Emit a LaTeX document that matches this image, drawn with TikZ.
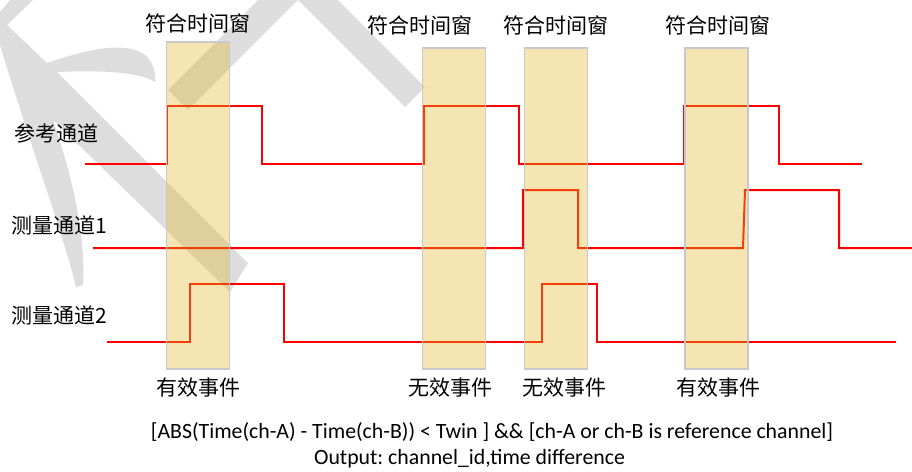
\documentclass[tikz,border=0pt]{standalone}
\usepackage{fontspec}
\setmainfont{Carlito}
\newfontfamily\cjk{Noto Sans CJK SC}
\definecolor{wmgray}{RGB}{221,221,221}
\definecolor{wincol}{RGB}{225,181,34}
\definecolor{winborder}{RGB}{200,200,206}
\definecolor{sigred}{RGB}{255,0,0}
\frenchspacing
\begin{document}
\begin{tikzpicture}[x=1pt,y=-1pt,
  wm/.style={fill=wmgray},
  wmline/.style={draw=wmgray,line width=28pt,line join=miter},
  sig/.style={draw=sigred,line width=2pt},
  win/.style={draw=winborder,line width=1.2pt,fill=wincol,fill opacity=0.35,inner sep=0pt,minimum width=63pt},
  cjklab/.style={font=\cjk\fontsize{21}{25}\selectfont,inner sep=0pt},
  formula/.style={font=\fontsize{21.8}{26}\selectfont,inner sep=0pt}]
\useasboundingbox (0,0) rectangle (912,471);
% watermark
\fill[wm] (10,0) -- (33,0) -- (7,25) -- (47,63)
  .. controls (85,50) and (125,40) .. (145,55)
  .. controls (153,62) and (156,72) .. (155,82)
  .. controls (140,72) and (100,70) .. (57,72)
  -- (248,263) -- (230,292) -- (53,120)
  .. controls (70,170) and (86,230) .. (83,285)
  -- (76,287)
  .. controls (62,230) and (35,160) .. (0,45)
  -- (0,12) -- cycle;
\draw[wmline] (178,100) -- (298,-20) -- (415,97);
% signals
\draw[sig] (85,164) -- (167,164) -- (167,106) -- (262,106) -- (262,164) -- (424,164) -- (424,106) -- (519,106) -- (519,164) -- (684,164) -- (684,106) -- (779,106) -- (779,164) -- (862,164);
\draw[sig] (93,248) -- (523,248) -- (523,190) -- (578,190) -- (578,248) -- (743,248) -- (745,190) -- (839,190) -- (839,248) -- (912,248);
\draw[sig] (107,342) -- (190,342) -- (190,284) -- (284,284) -- (284,342) -- (542,342) -- (542,284) -- (597,284) -- (597,342) -- (896,342);
% windows
\node[win,minimum height=327pt] (w1) at (198,205.5) {};
\node[win,minimum height=321pt] (w2) at (454.3,208.5) {};
\node[win,minimum height=321pt] (w3) at (555.8,208.5) {};
\node[win,minimum height=321pt] (w4) at (716.5,208.5) {};
% titles
\node[cjklab] (t1) at (197.5,23) {符合时间窗};
\node[cjklab] (t2) at (420,25) {符合时间窗};
\node[cjklab] (t3) at (556,25) {符合时间窗};
\node[cjklab] (t4) at (718,25) {符合时间窗};
% channel labels
\node[cjklab,anchor=west] (l1) at (14,133) {参考通道};
\node[cjklab,anchor=west] (l2) at (11,225) {测量通道1};
\node[cjklab,anchor=west] (l3) at (11,315) {测量通道2};
% event labels
\node[cjklab] (e1) at (198,388) {有效事件};
\node[cjklab] (e2) at (450,388) {无效事件};
\node[cjklab] (e3) at (564,388) {无效事件};
\node[cjklab] (e4) at (718,388) {有效事件};
% formula
\node[formula] (f1) at (492,432) {[ABS(Time(ch-A) - Time(ch-B)) < Twin ] \&\& [ch-A or ch-B is reference channel]};
\node[formula] (f2) at (469.5,459) {Output: channel\_id,time difference};
\end{tikzpicture}
\end{document}
